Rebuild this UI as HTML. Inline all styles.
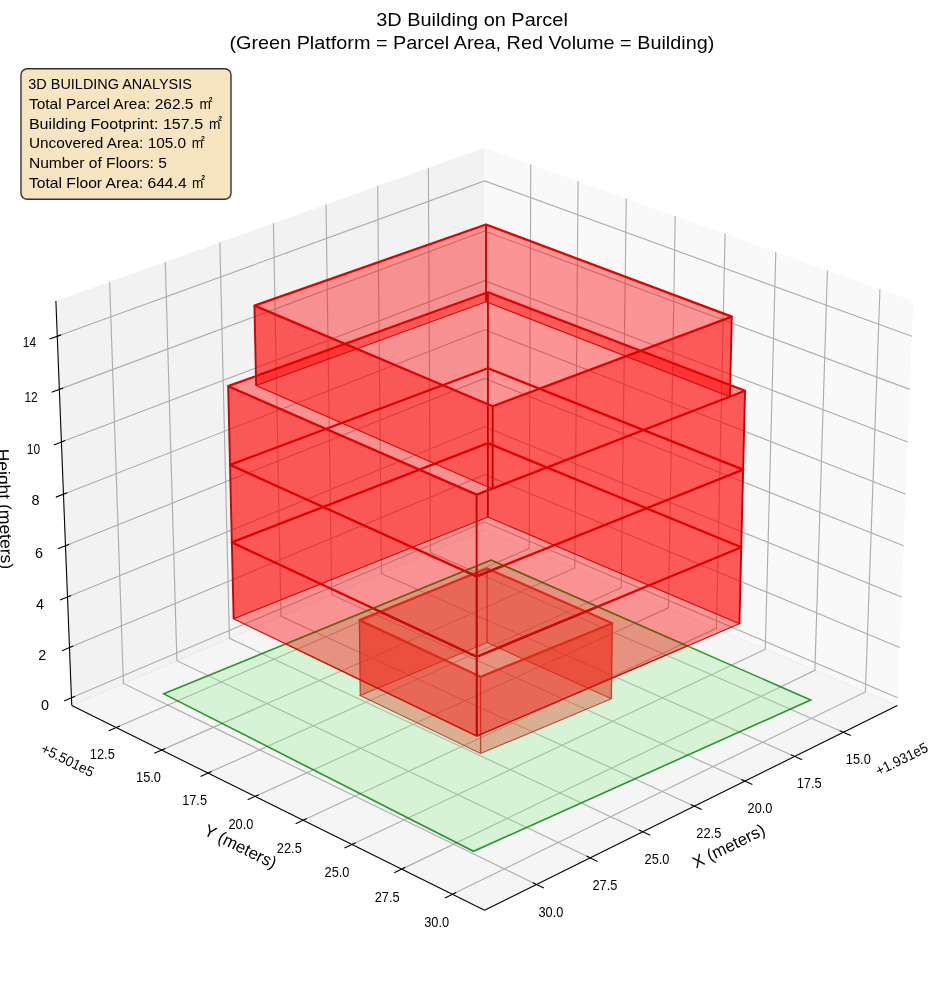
<!DOCTYPE html>
<html><head><meta charset="utf-8"><style>
html,body{margin:0;padding:0;background:#fff;}
body{width:944px;height:992px;overflow:hidden;position:relative;font-family:"Liberation Sans",sans-serif;}
svg{position:absolute;left:0;top:0;}
svg text{font-family:"Liberation Sans",sans-serif;}
</style></head><body>
<svg width="944" height="992" viewBox="0 0 944 992">
<polygon points="484.55,529.41 71.75,705.54 484.55,910.17 897.35,705.54" fill="#f5f5f5" stroke="none" stroke-width="0" />
<polygon points="484.55,529.41 71.75,705.54 55.88,301.09 484.55,147.86" fill="#f2f2f2" stroke="none" stroke-width="0" />
<polygon points="484.55,529.41 897.35,705.54 913.22,301.09 484.55,147.86" fill="#f9f9f9" stroke="none" stroke-width="0" />
<line x1="484.55" y1="529.41" x2="71.75" y2="705.54" stroke="#ebebeb" stroke-width="1.3" />
<line x1="484.55" y1="529.41" x2="897.35" y2="705.54" stroke="#efefef" stroke-width="1.3" />
<polyline points="843.40,732.28 430.34,552.54 428.38,167.94" fill="none" stroke="#adadad" stroke-width="1.15" />
<polyline points="794.66,756.44 381.43,573.41 377.68,186.07" fill="none" stroke="#adadad" stroke-width="1.15" />
<polyline points="744.99,781.07 331.65,594.65 326.04,204.52" fill="none" stroke="#adadad" stroke-width="1.15" />
<polyline points="694.36,806.16 280.98,616.27 273.44,223.32" fill="none" stroke="#adadad" stroke-width="1.15" />
<polyline points="642.75,831.75 229.40,638.27 219.86,242.48" fill="none" stroke="#adadad" stroke-width="1.15" />
<polyline points="590.12,857.84 176.88,660.68 165.27,261.99" fill="none" stroke="#adadad" stroke-width="1.15" />
<polyline points="536.45,884.44 123.40,683.50 109.63,281.88" fill="none" stroke="#adadad" stroke-width="1.15" />
<polyline points="116.15,727.55 529.17,548.45 530.78,164.39" fill="none" stroke="#adadad" stroke-width="1.15" />
<polyline points="161.64,750.10 574.83,567.93 578.11,181.31" fill="none" stroke="#adadad" stroke-width="1.15" />
<polyline points="207.95,773.05 621.25,587.74 626.26,198.52" fill="none" stroke="#adadad" stroke-width="1.15" />
<polyline points="255.08,796.42 668.45,607.88 675.24,216.03" fill="none" stroke="#adadad" stroke-width="1.15" />
<polyline points="303.07,820.21 716.44,628.35 725.08,233.84" fill="none" stroke="#adadad" stroke-width="1.15" />
<polyline points="351.94,844.44 765.25,649.18 775.79,251.97" fill="none" stroke="#adadad" stroke-width="1.15" />
<polyline points="401.72,869.11 814.89,670.36 827.41,270.42" fill="none" stroke="#adadad" stroke-width="1.15" />
<polyline points="452.43,894.25 865.39,691.90 879.95,289.20" fill="none" stroke="#adadad" stroke-width="1.15" />
<polyline points="71.45,697.74 484.55,522.04 897.65,697.74" fill="none" stroke="#adadad" stroke-width="1.15" />
<polyline points="69.48,647.58 484.55,474.61 899.62,647.58" fill="none" stroke="#adadad" stroke-width="1.15" />
<polyline points="67.49,596.93 484.55,426.76 901.61,596.93" fill="none" stroke="#adadad" stroke-width="1.15" />
<polyline points="65.48,545.80 484.55,378.48 903.62,545.80" fill="none" stroke="#adadad" stroke-width="1.15" />
<polyline points="63.46,494.18 484.55,329.76 905.64,494.18" fill="none" stroke="#adadad" stroke-width="1.15" />
<polyline points="61.41,442.05 484.55,280.61 907.69,442.05" fill="none" stroke="#adadad" stroke-width="1.15" />
<polyline points="59.35,389.41 484.55,231.01 909.75,389.41" fill="none" stroke="#adadad" stroke-width="1.15" />
<polyline points="57.26,336.26 484.55,180.96 911.84,336.26" fill="none" stroke="#adadad" stroke-width="1.15" />
<line x1="71.75" y1="705.54" x2="55.88" y2="301.09" stroke="#000" stroke-width="1.1" />
<line x1="71.75" y1="705.54" x2="484.55" y2="910.17" stroke="#000" stroke-width="1.1" />
<line x1="484.55" y1="910.17" x2="897.35" y2="705.54" stroke="#000" stroke-width="1.1" />
<line x1="839.70" y1="730.67" x2="850.81" y2="735.51" stroke="#000" stroke-width="1.1" />
<line x1="790.95" y1="754.80" x2="802.08" y2="759.73" stroke="#000" stroke-width="1.1" />
<line x1="741.28" y1="779.39" x2="752.42" y2="784.42" stroke="#000" stroke-width="1.1" />
<line x1="690.65" y1="804.46" x2="701.79" y2="809.58" stroke="#000" stroke-width="1.1" />
<line x1="639.03" y1="830.01" x2="650.19" y2="835.23" stroke="#000" stroke-width="1.1" />
<line x1="586.40" y1="856.07" x2="597.56" y2="861.39" stroke="#000" stroke-width="1.1" />
<line x1="532.73" y1="882.64" x2="543.89" y2="888.07" stroke="#000" stroke-width="1.1" />
<line x1="119.85" y1="725.94" x2="108.74" y2="730.76" stroke="#000" stroke-width="1.1" />
<line x1="165.35" y1="748.46" x2="154.22" y2="753.37" stroke="#000" stroke-width="1.1" />
<line x1="211.65" y1="771.39" x2="200.52" y2="776.38" stroke="#000" stroke-width="1.1" />
<line x1="258.79" y1="794.73" x2="247.65" y2="799.81" stroke="#000" stroke-width="1.1" />
<line x1="306.78" y1="818.49" x2="295.63" y2="823.66" stroke="#000" stroke-width="1.1" />
<line x1="355.66" y1="842.68" x2="344.50" y2="847.95" stroke="#000" stroke-width="1.1" />
<line x1="405.44" y1="867.32" x2="394.28" y2="872.69" stroke="#000" stroke-width="1.1" />
<line x1="456.14" y1="892.43" x2="444.98" y2="897.90" stroke="#000" stroke-width="1.1" />
<line x1="75.15" y1="696.17" x2="64.04" y2="700.89" stroke="#000" stroke-width="1.1" />
<line x1="73.20" y1="646.03" x2="62.03" y2="650.68" stroke="#000" stroke-width="1.1" />
<line x1="71.23" y1="595.41" x2="60.01" y2="599.99" stroke="#000" stroke-width="1.1" />
<line x1="69.24" y1="544.30" x2="57.96" y2="548.81" stroke="#000" stroke-width="1.1" />
<line x1="67.23" y1="492.70" x2="55.89" y2="497.13" stroke="#000" stroke-width="1.1" />
<line x1="65.21" y1="440.60" x2="53.81" y2="444.95" stroke="#000" stroke-width="1.1" />
<line x1="63.16" y1="387.99" x2="51.70" y2="392.26" stroke="#000" stroke-width="1.1" />
<line x1="61.09" y1="334.87" x2="49.58" y2="339.05" stroke="#000" stroke-width="1.1" />
<polygon points="360.29,695.54 487.06,642.60 487.07,568.45 359.40,620.16" fill="rgba(255,0,0,0.4)" stroke="none" stroke-width="0" />
<polygon points="487.06,642.60 611.38,698.72 612.29,623.27 487.07,568.45" fill="rgba(255,0,0,0.4)" stroke="none" stroke-width="0" />
<polygon points="480.60,753.52 360.29,695.54 359.40,620.16 480.57,676.82" fill="rgba(255,0,0,0.4)" stroke="none" stroke-width="0" />
<polygon points="611.38,698.72 480.60,753.52 480.57,676.82 612.29,623.27" fill="rgba(255,0,0,0.4)" stroke="none" stroke-width="0" />
<polygon points="360.29,695.54 487.06,642.60 611.38,698.72 480.60,753.52" fill="none" stroke="rgb(208,8,8)" stroke-width="1.1" />
<line x1="360.29" y1="695.54" x2="359.40" y2="620.16" stroke="rgb(200,5,5)" stroke-width="1.3" />
<line x1="487.06" y1="642.60" x2="487.07" y2="568.45" stroke="rgb(200,5,5)" stroke-width="1.3" />
<line x1="611.38" y1="698.72" x2="612.29" y2="623.27" stroke="rgb(200,5,5)" stroke-width="1.3" />
<line x1="480.60" y1="753.52" x2="480.57" y2="676.82" stroke="rgb(200,5,5)" stroke-width="1.3" />
<polygon points="359.40,620.16 487.07,568.45 612.29,623.27 480.57,676.82" fill="none" stroke="rgb(228,0,0)" stroke-width="2.3" stroke-linejoin="round"/>
<polygon points="163.82,693.84 491.08,560.02 810.69,699.94 473.47,851.28" fill="rgba(144,238,144,0.3)" stroke="rgba(0,128,0,0.82)" stroke-width="1.6" stroke-linejoin="miter"/>
<polygon points="256.14,385.43 486.00,301.84 486.01,224.48 254.46,305.62" fill="rgba(255,0,0,0.4)" stroke="none" stroke-width="0" />
<polygon points="486.00,301.84 729.96,396.81 731.78,316.67 486.01,224.48" fill="rgba(255,0,0,0.4)" stroke="none" stroke-width="0" />
<polygon points="230.02,464.86 487.92,368.22 487.94,292.21 228.16,386.19" fill="rgba(255,0,0,0.4)" stroke="none" stroke-width="0" />
<polygon points="487.92,368.22 743.15,469.59 745.04,390.79 487.94,292.21" fill="rgba(255,0,0,0.4)" stroke="none" stroke-width="0" />
<polygon points="492.59,489.00 256.14,385.43 254.46,305.62 492.66,406.22" fill="rgba(255,0,0,0.4)" stroke="none" stroke-width="0" />
<polygon points="729.96,396.81 492.59,489.00 492.66,406.22 731.78,316.67" fill="rgba(255,0,0,0.4)" stroke="none" stroke-width="0" />
<polygon points="231.85,542.40 487.90,443.17 487.92,368.22 230.02,464.86" fill="rgba(255,0,0,0.4)" stroke="none" stroke-width="0" />
<polygon points="487.90,443.17 741.28,547.25 743.15,469.59 487.92,368.22" fill="rgba(255,0,0,0.4)" stroke="none" stroke-width="0" />
<polygon points="476.68,576.35 230.02,464.86 228.16,386.19 476.62,494.67" fill="rgba(255,0,0,0.4)" stroke="none" stroke-width="0" />
<polygon points="743.15,469.59 476.68,576.35 476.62,494.67 745.04,390.79" fill="rgba(255,0,0,0.4)" stroke="none" stroke-width="0" />
<polygon points="233.66,618.83 487.87,517.09 487.90,443.17 231.85,542.40" fill="rgba(255,0,0,0.4)" stroke="none" stroke-width="0" />
<polygon points="487.87,517.09 739.44,623.80 741.28,547.25 487.90,443.17" fill="rgba(255,0,0,0.4)" stroke="none" stroke-width="0" />
<polygon points="476.74,656.80 231.85,542.40 230.02,464.86 476.68,576.35" fill="rgba(255,0,0,0.4)" stroke="none" stroke-width="0" />
<polygon points="741.28,547.25 476.74,656.80 476.68,576.35 743.15,469.59" fill="rgba(255,0,0,0.4)" stroke="none" stroke-width="0" />
<polygon points="476.80,736.04 233.66,618.83 231.85,542.40 476.74,656.80" fill="rgba(255,0,0,0.4)" stroke="none" stroke-width="0" />
<polygon points="739.44,623.80 476.80,736.04 476.74,656.80 741.28,547.25" fill="rgba(255,0,0,0.4)" stroke="none" stroke-width="0" />
<polygon points="233.66,618.83 487.87,517.09 739.44,623.80 476.80,736.04" fill="none" stroke="rgb(208,8,8)" stroke-width="1.1" />
<polygon points="231.85,542.40 487.90,443.17 741.28,547.25 476.74,656.80" fill="none" stroke="rgb(208,8,8)" stroke-width="1.1" />
<polygon points="230.02,464.86 487.92,368.22 743.15,469.59 476.68,576.35" fill="none" stroke="rgb(208,8,8)" stroke-width="1.1" />
<polygon points="256.14,385.43 486.00,301.84 729.96,396.81 492.59,489.00" fill="none" stroke="rgb(208,8,8)" stroke-width="1.1" />
<line x1="233.66" y1="618.83" x2="231.85" y2="542.40" stroke="rgb(200,5,5)" stroke-width="1.9" />
<line x1="487.87" y1="517.09" x2="487.90" y2="443.17" stroke="rgb(200,5,5)" stroke-width="1.9" />
<line x1="739.44" y1="623.80" x2="741.28" y2="547.25" stroke="rgb(200,5,5)" stroke-width="1.9" />
<line x1="476.80" y1="736.04" x2="476.74" y2="656.80" stroke="rgb(200,5,5)" stroke-width="1.9" />
<line x1="231.85" y1="542.40" x2="230.02" y2="464.86" stroke="rgb(200,5,5)" stroke-width="1.9" />
<line x1="487.90" y1="443.17" x2="487.92" y2="368.22" stroke="rgb(200,5,5)" stroke-width="1.9" />
<line x1="741.28" y1="547.25" x2="743.15" y2="469.59" stroke="rgb(200,5,5)" stroke-width="1.9" />
<line x1="476.74" y1="656.80" x2="476.68" y2="576.35" stroke="rgb(200,5,5)" stroke-width="1.9" />
<line x1="230.02" y1="464.86" x2="228.16" y2="386.19" stroke="rgb(200,5,5)" stroke-width="1.9" />
<line x1="487.92" y1="368.22" x2="487.94" y2="292.21" stroke="rgb(200,5,5)" stroke-width="1.9" />
<line x1="743.15" y1="469.59" x2="745.04" y2="390.79" stroke="rgb(200,5,5)" stroke-width="1.9" />
<line x1="476.68" y1="576.35" x2="476.62" y2="494.67" stroke="rgb(200,5,5)" stroke-width="1.9" />
<line x1="256.14" y1="385.43" x2="254.46" y2="305.62" stroke="rgb(200,5,5)" stroke-width="1.9" />
<line x1="486.00" y1="301.84" x2="486.01" y2="224.48" stroke="rgb(200,5,5)" stroke-width="1.9" />
<line x1="729.96" y1="396.81" x2="731.78" y2="316.67" stroke="rgb(200,5,5)" stroke-width="1.9" />
<line x1="492.59" y1="489.00" x2="492.66" y2="406.22" stroke="rgb(200,5,5)" stroke-width="1.9" />
<polygon points="231.85,542.40 487.90,443.17 741.28,547.25 476.74,656.80" fill="none" stroke="rgb(228,0,0)" stroke-width="2.3" stroke-linejoin="round"/>
<polygon points="230.02,464.86 487.92,368.22 743.15,469.59 476.68,576.35" fill="none" stroke="rgb(228,0,0)" stroke-width="2.3" stroke-linejoin="round"/>
<polygon points="228.16,386.19 487.94,292.21 745.04,390.79 476.62,494.67" fill="none" stroke="rgb(228,0,0)" stroke-width="2.3" stroke-linejoin="round"/>
<polygon points="254.46,305.62 486.01,224.48 731.78,316.67 492.66,406.22" fill="none" stroke="rgb(228,0,0)" stroke-width="2.3" stroke-linejoin="round"/>
<clipPath id="gclip"><polygon points="163.82,693.84 491.08,560.02 810.69,699.94 473.47,851.28"/></clipPath>
<g clip-path="url(#gclip)">
<polygon points="233.66,618.83 487.87,517.09 739.44,623.80 476.80,736.04" fill="none" stroke="rgb(196,24,16)" stroke-width="1.1" />
<line x1="233.66" y1="618.83" x2="231.85" y2="542.40" stroke="rgb(188,16,12)" stroke-width="1.9" />
<line x1="487.87" y1="517.09" x2="487.90" y2="443.17" stroke="rgb(188,16,12)" stroke-width="1.9" />
<line x1="739.44" y1="623.80" x2="741.28" y2="547.25" stroke="rgb(188,16,12)" stroke-width="1.9" />
<line x1="476.80" y1="736.04" x2="476.74" y2="656.80" stroke="rgb(188,16,12)" stroke-width="1.9" />
<line x1="231.85" y1="542.40" x2="230.02" y2="464.86" stroke="rgb(188,16,12)" stroke-width="1.9" />
<line x1="487.90" y1="443.17" x2="487.92" y2="368.22" stroke="rgb(188,16,12)" stroke-width="1.9" />
<line x1="741.28" y1="547.25" x2="743.15" y2="469.59" stroke="rgb(188,16,12)" stroke-width="1.9" />
<line x1="476.74" y1="656.80" x2="476.68" y2="576.35" stroke="rgb(188,16,12)" stroke-width="1.9" />
<line x1="230.02" y1="464.86" x2="228.16" y2="386.19" stroke="rgb(188,16,12)" stroke-width="1.9" />
<line x1="487.92" y1="368.22" x2="487.94" y2="292.21" stroke="rgb(188,16,12)" stroke-width="1.9" />
<line x1="743.15" y1="469.59" x2="745.04" y2="390.79" stroke="rgb(188,16,12)" stroke-width="1.9" />
<line x1="476.68" y1="576.35" x2="476.62" y2="494.67" stroke="rgb(188,16,12)" stroke-width="1.9" />
<line x1="256.14" y1="385.43" x2="254.46" y2="305.62" stroke="rgb(188,16,12)" stroke-width="1.9" />
<line x1="486.00" y1="301.84" x2="486.01" y2="224.48" stroke="rgb(188,16,12)" stroke-width="1.9" />
<line x1="729.96" y1="396.81" x2="731.78" y2="316.67" stroke="rgb(188,16,12)" stroke-width="1.9" />
<line x1="492.59" y1="489.00" x2="492.66" y2="406.22" stroke="rgb(188,16,12)" stroke-width="1.9" />
<polygon points="231.85,542.40 487.90,443.17 741.28,547.25 476.74,656.80" fill="none" stroke="rgb(198,14,12)" stroke-width="2.3" stroke-linejoin="round"/>
<polygon points="230.02,464.86 487.92,368.22 743.15,469.59 476.68,576.35" fill="none" stroke="rgb(198,14,12)" stroke-width="2.3" stroke-linejoin="round"/>
<polygon points="228.16,386.19 487.94,292.21 745.04,390.79 476.62,494.67" fill="none" stroke="rgb(198,14,12)" stroke-width="2.3" stroke-linejoin="round"/>
<polygon points="254.46,305.62 486.01,224.48 731.78,316.67 492.66,406.22" fill="none" stroke="rgb(198,14,12)" stroke-width="2.3" stroke-linejoin="round"/>
</g>
<clipPath id="rclip"><polygon points="233.66,618.83 487.87,517.09 487.90,443.17 231.85,542.40"/><polygon points="487.87,517.09 739.44,623.80 741.28,547.25 487.90,443.17"/><polygon points="739.44,623.80 476.80,736.04 476.74,656.80 741.28,547.25"/><polygon points="476.80,736.04 233.66,618.83 231.85,542.40 476.74,656.80"/><polygon points="231.85,542.40 487.90,443.17 487.92,368.22 230.02,464.86"/><polygon points="487.90,443.17 741.28,547.25 743.15,469.59 487.92,368.22"/><polygon points="741.28,547.25 476.74,656.80 476.68,576.35 743.15,469.59"/><polygon points="476.74,656.80 231.85,542.40 230.02,464.86 476.68,576.35"/><polygon points="230.02,464.86 487.92,368.22 487.94,292.21 228.16,386.19"/><polygon points="487.92,368.22 743.15,469.59 745.04,390.79 487.94,292.21"/><polygon points="743.15,469.59 476.68,576.35 476.62,494.67 745.04,390.79"/><polygon points="476.68,576.35 230.02,464.86 228.16,386.19 476.62,494.67"/><polygon points="256.14,385.43 486.00,301.84 486.01,224.48 254.46,305.62"/><polygon points="486.00,301.84 729.96,396.81 731.78,316.67 486.01,224.48"/><polygon points="729.96,396.81 492.59,489.00 492.66,406.22 731.78,316.67"/><polygon points="492.59,489.00 256.14,385.43 254.46,305.62 492.66,406.22"/></clipPath>
<g clip-path="url(#rclip)">
<polyline points="163.82,693.84 491.08,560.02 810.69,699.94" fill="none" stroke="rgba(70,105,0,0.55)" stroke-width="1.5" />
</g>
<g opacity="0.999">
<text transform="translate(376.20,25.60) scale(1.0836,1)" font-size="18.40" fill="#000" >3D Building on Parcel</text>
<text transform="translate(229.40,49.30) scale(1.0781,1)" font-size="18.40" fill="#000" >(Green Platform = Parcel Area, Red Volume = Building)</text>
<rect x="21.0" y="68.75" width="210.0" height="130.55" rx="6.3" ry="6.3" fill="#f7e5c2" stroke="#333" stroke-width="1.4"/>
<text transform="translate(28.30,89.40) scale(0.9390,1)" font-size="15.40" fill="#000" >3D BUILDING ANALYSIS</text>
<text transform="translate(28.90,109.10) scale(1.0077,1)" font-size="15.40" fill="#000" >Total Parcel Area: 262.5</text>
<text transform="translate(199.40,109.10) scale(0.8865,1)" font-size="15.40" fill="#000" >m</text>
<rect x="208.30" y="95.70" width="4.6" height="6.2" fill="#f7e5c2"/>
<text transform="translate(208.70,101.60) scale(1.0374,1)" font-size="6.60" fill="#000" font-weight="bold">2</text>
<text transform="translate(28.90,128.70) scale(1.0441,1)" font-size="15.40" fill="#000" >Building Footprint: 157.5</text>
<text transform="translate(209.00,128.70) scale(0.8865,1)" font-size="15.40" fill="#000" >m</text>
<rect x="217.90" y="115.30" width="4.6" height="6.2" fill="#f7e5c2"/>
<text transform="translate(218.30,121.20) scale(1.0374,1)" font-size="6.60" fill="#000" font-weight="bold">2</text>
<text transform="translate(28.90,148.40) scale(0.9991,1)" font-size="15.40" fill="#000" >Uncovered Area: 105.0</text>
<text transform="translate(191.70,148.40) scale(0.8865,1)" font-size="15.40" fill="#000" >m</text>
<rect x="200.60" y="135.00" width="4.6" height="6.2" fill="#f7e5c2"/>
<text transform="translate(201.00,140.90) scale(1.0374,1)" font-size="6.60" fill="#000" font-weight="bold">2</text>
<text transform="translate(28.90,168.10) scale(1.0143,1)" font-size="15.40" fill="#000" >Number of Floors: 5</text>
<text transform="translate(28.90,187.70) scale(1.0192,1)" font-size="15.40" fill="#000" >Total Floor Area: 644.4</text>
<text transform="translate(192.00,187.70) scale(0.8865,1)" font-size="15.40" fill="#000" >m</text>
<rect x="200.90" y="174.30" width="4.6" height="6.2" fill="#f7e5c2"/>
<text transform="translate(201.30,180.20) scale(1.0374,1)" font-size="6.60" fill="#000" font-weight="bold">2</text>
<text transform="translate(29.50,342.40) rotate(0.00) translate(-6.65,4.97) scale(0.8321,1)" font-size="14.40" fill="#000">14</text>
<text transform="translate(31.10,396.80) rotate(0.00) translate(-6.65,5.04) scale(0.8321,1)" font-size="14.40" fill="#000">12</text>
<text transform="translate(33.50,449.10) rotate(0.00) translate(-6.65,4.97) scale(0.8321,1)" font-size="14.40" fill="#000">10</text>
<text transform="translate(35.50,500.40) rotate(0.00) translate(-4.00,4.97) scale(1.0000,1)" font-size="14.40" fill="#000">8</text>
<text transform="translate(38.90,552.80) rotate(0.00) translate(-4.00,4.97) scale(1.0000,1)" font-size="14.40" fill="#000">6</text>
<text transform="translate(39.90,604.10) rotate(0.00) translate(-4.00,4.97) scale(1.0000,1)" font-size="14.40" fill="#000">4</text>
<text transform="translate(42.20,655.40) rotate(0.00) translate(-4.00,5.04) scale(1.0000,1)" font-size="14.40" fill="#000">2</text>
<text transform="translate(45.00,704.90) rotate(0.00) translate(-4.00,4.97) scale(1.0000,1)" font-size="14.40" fill="#000">0</text>
<text transform="translate(550.90,911.60) rotate(0.00) translate(-12.45,4.97) scale(0.8890,1)" font-size="14.40" fill="#000">30.0</text>
<text transform="translate(604.90,884.80) rotate(0.00) translate(-12.45,4.97) scale(0.8890,1)" font-size="14.40" fill="#000">27.5</text>
<text transform="translate(657.00,858.90) rotate(0.00) translate(-12.45,4.97) scale(0.8890,1)" font-size="14.40" fill="#000">25.0</text>
<text transform="translate(708.80,833.00) rotate(0.00) translate(-12.45,4.97) scale(0.8890,1)" font-size="14.40" fill="#000">22.5</text>
<text transform="translate(760.00,808.10) rotate(0.00) translate(-12.45,4.97) scale(0.8890,1)" font-size="14.40" fill="#000">20.0</text>
<text transform="translate(809.20,783.00) rotate(0.00) translate(-12.45,4.90) scale(0.8890,1)" font-size="14.40" fill="#000">17.5</text>
<text transform="translate(858.30,758.90) rotate(0.00) translate(-12.45,4.97) scale(0.8890,1)" font-size="14.40" fill="#000">15.0</text>
<text transform="translate(102.30,753.70) rotate(0.00) translate(-12.45,4.97) scale(0.8890,1)" font-size="14.40" fill="#000">12.5</text>
<text transform="translate(148.50,777.10) rotate(0.00) translate(-12.45,4.97) scale(0.8890,1)" font-size="14.40" fill="#000">15.0</text>
<text transform="translate(194.60,800.00) rotate(0.00) translate(-12.45,4.90) scale(0.8890,1)" font-size="14.40" fill="#000">17.5</text>
<text transform="translate(240.90,824.40) rotate(0.00) translate(-12.45,4.97) scale(0.8890,1)" font-size="14.40" fill="#000">20.0</text>
<text transform="translate(289.30,848.00) rotate(0.00) translate(-12.45,4.97) scale(0.8890,1)" font-size="14.40" fill="#000">22.5</text>
<text transform="translate(337.00,872.00) rotate(0.00) translate(-12.45,4.97) scale(0.8890,1)" font-size="14.40" fill="#000">25.0</text>
<text transform="translate(387.20,897.00) rotate(0.00) translate(-12.45,4.97) scale(0.8890,1)" font-size="14.40" fill="#000">27.5</text>
<text transform="translate(436.70,922.00) rotate(0.00) translate(-12.45,4.97) scale(0.8890,1)" font-size="14.40" fill="#000">30.0</text>
<text transform="translate(901.80,759.00) rotate(-26.40) translate(-28.25,4.97) scale(0.9342,1)" font-size="14.40" fill="#000">+1.931e5</text>
<text transform="translate(67.80,760.20) rotate(26.40) translate(-28.50,4.97) scale(0.9425,1)" font-size="14.40" fill="#000">+5.501e5</text>
<text transform="translate(729.30,847.30) rotate(-26.40) translate(-39.25,4.38) scale(0.9898,1)" font-size="17.00" fill="#000">X (meters)</text>
<text transform="translate(239.80,847.70) rotate(26.40) translate(-39.25,4.38) scale(0.9930,1)" font-size="17.00" fill="#000">Y (meters)</text>
<text transform="translate(3.50,509.00) rotate(88.00) translate(-60.25,4.38) scale(1.0288,1)" font-size="17.00" fill="#000">Height (meters)</text>
</g>
</svg>
</body></html>
